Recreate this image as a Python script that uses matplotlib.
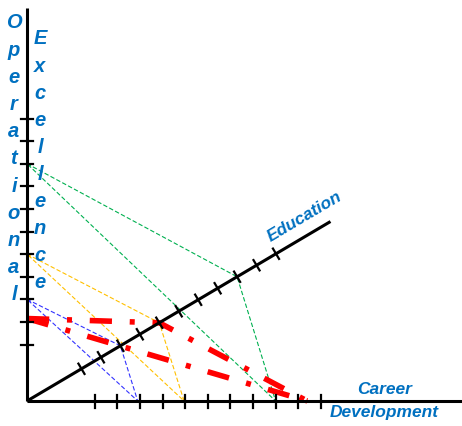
import numpy as np
import matplotlib.pyplot as plt

# three axes, values in tick units
series_colors = ['#00B050', '#FFC000', '#3333FF', '#FF0000']
ops_values = [10.5, 6.5, 4.5, 3.65]      # Operational Excellence (vertical)
edu_values = [10.8, 6.8, 4.8, 6.8]       # Education (diagonal)
career_values = [11.0, 6.95, 4.9, 12.4]  # Career Development (horizontal)

ops_ticks = [2.5 + i for i in range(11)]
edu_ticks = [2.8 + i for i in range(11)]
career_ticks = [3 + i for i in range(11)]

# layout (pixel coordinates, y going down)
ORIGIN = np.array([27.0, 401.0])
UNIT = 22.6
ANGLE = np.radians(30.6)
EDU_DIR = np.array([np.cos(ANGLE), -np.sin(ANGLE)])
TEXT_BLUE = '#0070C0'
FONT = 'Liberation Sans'


def pt_ops(v):
    return ORIGIN + np.array([0, -v * UNIT])


def pt_edu(v):
    return ORIGIN + EDU_DIR * v * UNIT


def pt_career(v):
    return ORIGIN + np.array([v * UNIT, 0])


fig = plt.figure(figsize=(4.62, 4.26), dpi=100)
ax = fig.add_axes([0, 0, 1, 1])
ax.set_xlim(0, 462)
ax.set_ylim(426, 0)
ax.axis('off')

# triangles
for col, o, e, c in zip(series_colors, ops_values, edu_values, career_values):
    P = pt_ops(o)
    E = pt_edu(e)
    H = pt_career(c)
    if col == '#FF0000':
        kw = dict(color=col, lw=4.0, linestyle=(0, (4.0, 3.2, 0.9, 3.2)), zorder=2)
        ax.plot([P[0], E[0], H[0]], [P[1], E[1], H[1]], **kw)
        ax.plot([P[0], H[0]], [P[1], H[1]], **kw)
    else:
        kw = dict(color=col, lw=0.8, linestyle=(0, (4, 2)), zorder=1)
        ax.plot([P[0], E[0], H[0], P[0]], [P[1], E[1], H[1], P[1]], **kw)

# axes
axis_kw = dict(color='black', lw=2.2, solid_capstyle='butt', zorder=3)
top = pt_ops(17.4)
ax.plot([ORIGIN[0], top[0]], [ORIGIN[1], top[1]], **axis_kw)
ax.plot([ORIGIN[0], 462], [ORIGIN[1], ORIGIN[1]], **axis_kw)
end = pt_edu(15.6)
ax.plot([ORIGIN[0], end[0]], [ORIGIN[1], end[1]], **axis_kw)

tick_kw = dict(color='black', lw=1.6, zorder=3)
for v in ops_ticks:
    p = pt_ops(v)
    ax.plot([p[0] - 6, p[0] + 6], [p[1], p[1]], **tick_kw)
for v in career_ticks:
    p = pt_career(v)
    ax.plot([p[0], p[0]], [p[1] - 6, p[1] + 7], **tick_kw)
perp = np.array([EDU_DIR[1], -EDU_DIR[0]])
for v in edu_ticks:
    p = pt_edu(v)
    a, b = p - perp * 6, p + perp * 6
    ax.plot([a[0], b[0]], [a[1], b[1]], **tick_kw)

# labels
lab = dict(color=TEXT_BLUE, fontweight='bold', fontstyle='italic',
           family=FONT, ha='center', va='center')
for i, ch in enumerate('Operational'):
    ax.text(14, 23 + i * 27.2, ch, fontsize=14.5, **lab)
for i, ch in enumerate('Excellence'):
    ax.text(40, 39 + i * 27.1, ch, fontsize=14.5, **lab)
ax.text(385, 390, 'Career', fontsize=12.5, **lab)
ax.text(384, 412, 'Development', fontsize=12.5, **lab)
ax.text(305, 217, 'Education', fontsize=12.5, rotation=30.6,
        rotation_mode='anchor', **lab)

fig.savefig('out.png', dpi=100)
